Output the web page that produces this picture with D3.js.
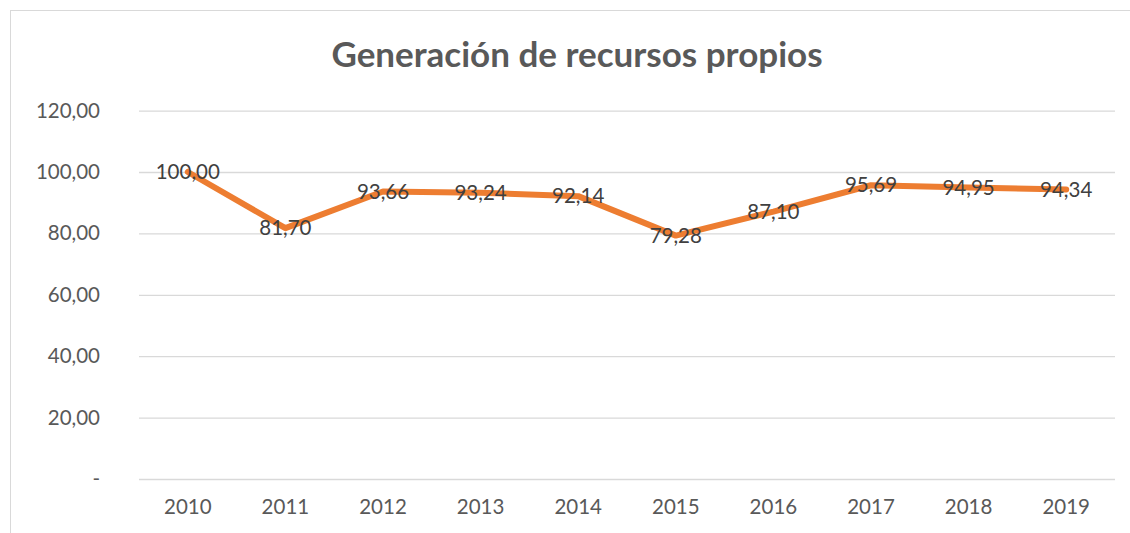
<!DOCTYPE html>
<html><head><meta charset="utf-8">
<script src="https://cdn.jsdelivr.net/npm/d3@7"></script>
<style>body{margin:0;background:#fff}svg{display:block}</style>
</head><body>
<script>
const categories = ["2010","2011","2012","2013","2014","2015","2016","2017","2018","2019"];
const values = [100.00, 81.70, 93.66, 93.24, 92.14, 79.28, 87.10, 95.69, 94.95, 94.34];
const yTicks = [0, 20, 40, 60, 80, 100, 120];
const title = "Generación de recursos propios";

const W = 1130, H = 533;
const m = {left:139, right:15, top:110.6, bottom:54};
const fmt = v => v === 0 ? "-" : v.toFixed(2).replace(".", ",");
const font = "Lato, 'Open Sans', sans-serif";

const svg = d3.select("body").append("svg").attr("width", W).attr("height", H);
svg.append("rect").attr("x",10.5).attr("y",10.5).attr("width",1130).attr("height",540)
  .attr("fill","#fff").attr("stroke","#d9d9d9").attr("stroke-width",1);

const x = d3.scaleBand().domain(categories).range([m.left, W-m.right]);
const y = d3.scaleLinear().domain([0,120]).range([H-m.bottom, m.top]);

svg.append("text").attr("x",577).attr("y",67).attr("text-anchor","middle")
  .attr("font-family",font).attr("font-weight","bold").attr("font-size",35)
  .attr("fill","#595959").text(title);

const ya = svg.append("g").attr("transform",`translate(${m.left},0)`)
  .call(d3.axisLeft(y).tickValues(yTicks).tickFormat(fmt).tickSize(-(W-m.left-m.right)).tickPadding(39));
ya.select(".domain").remove();
ya.selectAll("line").attr("stroke","#d9d9d9").attr("stroke-width",1.3);
ya.selectAll("text").attr("font-family",font).attr("font-size",20.5).attr("fill","#595959");

const xa = svg.append("g").attr("transform",`translate(0,${H-m.bottom})`)
  .call(d3.axisBottom(x).tickSize(0).tickPadding(20));
xa.select(".domain").remove();
xa.selectAll("text").attr("font-family",font).attr("font-size",20.5).attr("fill","#595959");

const line = d3.line().x((d,i)=>x(categories[i])+x.bandwidth()/2).y(d=>y(d));
svg.append("path").datum(values).attr("d",line).attr("fill","none")
  .attr("stroke","#ED7D31").attr("stroke-width",6).attr("stroke-linecap","round").attr("stroke-linejoin","round");

svg.append("g").selectAll("text").data(values).join("text")
  .attr("x",(d,i)=>x(categories[i])+x.bandwidth()/2)
  .attr("y",d=>y(d)).attr("dy","0.35em").attr("text-anchor","middle")
  .attr("font-family",font).attr("font-size",20.5).attr("fill","#404040")
  .text(fmt);
</script>
</body></html>
